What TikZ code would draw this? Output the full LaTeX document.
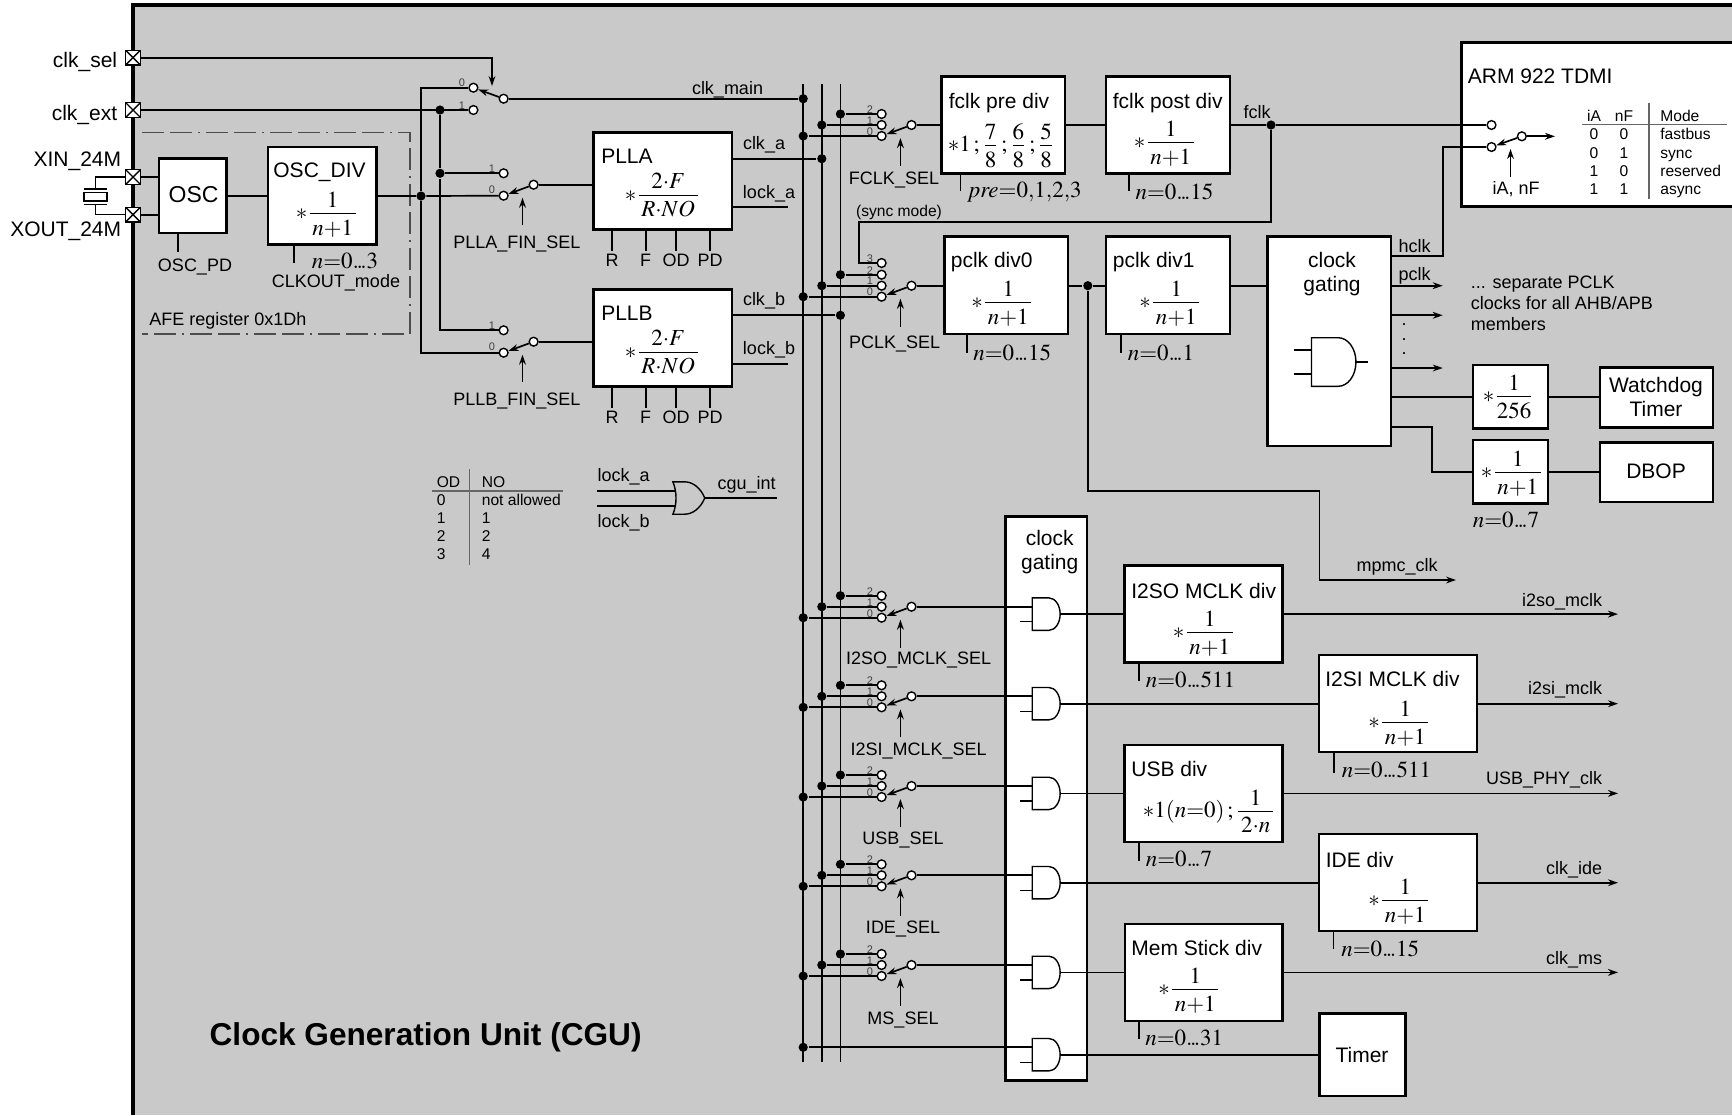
\documentclass[tikz,border=0pt]{standalone}
\usepackage{amsmath}
\usepackage{mathptmx}
\usepackage[no-math]{fontspec}
\setmainfont{Liberation Sans}
\usetikzlibrary{arrows.meta,fit,shapes.gates.logic.US}
\definecolor{cgugray}{RGB}{201,201,201}
\newcommand{\divfr}[2]{\dfrac{\vphantom{1}\smash{\lower1.7pt\hbox{$#1$}}}{#2}}
\newcommand{\dotsn}{.\!.\!.}

\begin{document}
\begin{tikzpicture}[
            x=0.5pt, y=-0.5pt,
            >={Stealth[length=5pt,width=3.4pt]},
            line width=0.85pt,
            box/.style={draw, fill=white, line width=1.25pt, inner sep=0pt},
            lbl/.style={inner sep=0pt, yshift=-0.7pt, font=\fontsize{9}{11}\selectfont},
            ttl/.style={inner sep=0pt, font=\fontsize{10.5}{12.5}\selectfont},
            tbl/.style={inner sep=0pt, font=\fontsize{7.8}{9}\selectfont},
            num/.style={inner sep=0pt, text=black!75, font=\fontsize{5.5}{6}\selectfont},
            mth/.style={inner sep=0pt, anchor=west, font=\fontsize{11.5}{14}\selectfont},
            term/.style={circle, draw, fill=white, line width=0.7pt, inner sep=0pt, minimum size=4.4pt},
            dot/.style={circle, fill=black, inner sep=0pt, minimum size=4.6pt},
            port/.style={rectangle, draw, fill=white, line width=0.7pt, inner sep=0pt, minimum size=7.4pt,
                path picture={\draw[line width=0.7pt] (path picture bounding box.north west) -- (path picture bounding box.south east)
                    (path picture bounding box.north east) -- (path picture bounding box.south west);}},
            andg/.style={and gate US, draw, anchor=west, logic gate inputs=nn, inner sep=0pt, line width=0.7pt,
                logic gate input sep=5pt, xscale=0.69, transform shape}
        ]
        \useasboundingbox (0,0) rectangle (1732,1115);
        \fill[cgugray] (133,5) rectangle (1732,1115);
        \draw[line width=1.8pt] (133,1115) -- (133,5) -- (1732,5);
        \draw[line width=0.7pt, black!70, dash pattern=on 11pt off 3pt on 11pt off 3pt on 1pt off 3pt]
            (141.6,132.3) -- (410,132.3) -- (410,334) -- (141.6,334);

        \node[port] (clksel) at (133,57.7) {};
        \node[port] (clkext) at (133,110) {};
        \node[port] (xin) at (133,177) {};
        \node[port] (xout) at (133,214.7) {};
        \node[ttl, anchor=east] (clksellbl) at (118,61.5) {clk\_sel};
        \node[ttl, anchor=east] (clkextlbl) at (118,114.5) {clk\_ext};
        \node[ttl, anchor=east] (xinlbl) at (122,161.5) {XIN\_24M};
        \node[ttl, anchor=east] (xoutlbl) at (122,231) {XOUT\_24M};

        \node[draw, fill=none, line width=0.7pt, inner sep=0pt, fit={(84,192.7)(107,201)}] (xtal) {};
        \coordinate (xtala) at (84,189);
        \coordinate (xtalb) at (107,189);
        \coordinate (xtalc) at (84,204.5);
        \coordinate (xtald) at (107,204.5);
        \coordinate (xtale) at (95.7,189);
        \coordinate (xtalf) at (95.7,204.5);
        \draw[line width=0.7pt] (xtala) -- (xtalb) (xtalc) -- (xtald);
        \draw[line width=0.7pt] (xin) -| (xtale) (xout) -| (xtalf);

        \node[box, fit={(159,158.7)(226.6,233)}] (osc) {};
        \node[box, fit={(268,147)(376.6,244.7)}] (oscdiv) {};
        \node[inner sep=0pt, font=\fontsize{11.5}{14}\selectfont] (osclbl) at (193.6,195) {OSC};
        \node[ttl] (oscdivlbl) at (319.5,172) {OSC\_DIV};
        \node[mth] (oscdivf) at (295,212.7) {$*\divfr{1}{\,n{+}1\,}$};
        \node[lbl] (oscpd) at (195,265.7) {OSC\_PD};
        \node[mth] (oscdivn) at (311,261) {$n{=}0\dotsn 3$};
        \node[lbl] (clkoutmode) at (336,281.7) {CLKOUT\_mode};
        \node[lbl, anchor=west] (afelbl) at (148.5,319) {AFE register 0x1Dh};
        \coordinate (oscpdt) at (178,251.7);
        \coordinate (oscdivt) at (294,262.7);
        \draw (xin) -- (xin -| osc.west);
        \draw (xout) -- (xout -| osc.west);
        \draw (oscpdt) -- (oscpdt |- osc.south);
        \draw (oscdivt) -- (oscdivt |- oscdiv.south);
        \node[dot] (maindot) at (421,196) {};
        \node[dot] (extdot) at (440,110) {};
        \node[dot] (pllain1) at (440,173.3) {};
        \draw (osc.east |- maindot) -- (oscdiv.west |- maindot);
        \draw (oscdiv.east |- maindot) -- (maindot);

        \node[term] (main0) at (473.4,87.7) {};
        \node[term] (main1) at (473.4,110) {};
        \node[term] (maino) at (503.6,98.7) {};
        \node[num] (mainn0) at (462,83) {0};
        \node[num] (mainn1) at (462,105.7) {1};
        \coordinate (selhead) at (492,86);
        \draw[->] (clksel) -| (selhead);
        \draw[->] (maino) -- (main0);
        \draw (clkext) -- (main1);
        \draw (maindot) |- (main0);

        \foreach \pl/\yy/\ttlx in {a/184.7/PLLA, b/341.7/PLLB} {
            \node[term] (pll\pl t1) at (503.6,\yy-11.4) {};
            \node[term] (pll\pl t0) at (503.6,\yy+11) {};
            \node[term] (pll\pl o) at (533.6,\yy) {};
            \node[num] (pll\pl n1) at (492,\yy-16) {1};
            \node[num] (pll\pl n0) at (492,\yy+5.5) {0};
            \coordinate (pll\pl ca) at (522.5,\yy+40.5);
            \coordinate (pll\pl cb) at (522.5,\yy+13);
            \draw[->] (pll\pl ca) -- (pll\pl cb);
            \draw[->] (pll\pl o) -- (pll\pl t0);
            \node[lbl] (pll\pl sel) at (516.8,\yy+57.5) {\ttlx\_FIN\_SEL};
            \node[box, fit={(593.6,\yy-52.4)(732,\yy+44.6)}] (pll\pl) {};
            \node[ttl, anchor=west] (pll\pl lbl) at (600.4,\yy-28.7) {\ttlx};
            \node[mth] (pll\pl f) at (624,\yy+9) {$*\divfr{2{\cdot}F}{\,R{\cdot}NO\,}$};
            \draw (pll\pl o) -- (pll\pl o -| pll\pl.west);
            \node[lbl] (pll\pl r) at (612,\yy+74.6) {R};
            \node[lbl] (pll\pl ff) at (645.7,\yy+74.6) {F};
            \node[lbl] (pll\pl od) at (676,\yy+74.6) {OD};
            \node[lbl] (pll\pl pd) at (710,\yy+74.6) {PD};
            \foreach \pn in {r,ff,od,pd}
                \draw (pll\pl\pn.north) ++(0,-2.5) -- (pll\pl\pn.north |- pll\pl.south);
        }
        \draw (extdot) -- (pllain1);
        \draw (pllain1) -- (pllat1);
        \draw (pllain1) |- (pllbt1);
        \draw (maindot) -- (pllat0);
        \draw (maindot) |- (pllbt0);

        \coordinate (bus1t) at (803.2,84);
        \coordinate (bus2t) at (821.8,84);
        \coordinate (bus3t) at (840.4,84);
        \coordinate (bus1b) at (803.2,1061.7);
        \coordinate (bus2b) at (821.8,1061.7);
        \coordinate (bus3b) at (840.4,1061.7);
        \draw (bus1t) -- (bus1b);
        \draw (bus2t) -- (bus2b);
        \draw (bus3t) -- (bus3b);

        \node[dot] (maindrop) at (803.2,98.7) {};
        \node[dot] (clkadot) at (821.8,158.7) {};
        \node[dot] (clkbdot) at (840.4,315.3) {};
        \draw (maino) -- (maindrop);
        \draw (pllao -| plla.east) ++(0,-26) -- (clkadot);
        \draw (pllbo -| pllb.east) ++(0,-26.4) -- (clkbdot);
        \node[lbl] (clkmainlbl) at (727.5,88) {clk\_main};
        \node[lbl] (clkalbl) at (764,143) {clk\_a};
        \node[lbl] (clkblbl) at (764,299) {clk\_b};
        \node[lbl] (lockalbl) at (769,192.7) {lock\_a};
        \node[lbl] (lockblbl) at (769,348) {lock\_b};
        \coordinate (lockaend) at (787.5,207);
        \coordinate (lockbend) at (787.5,364);
        \draw (lockaend) -- (lockaend -| plla.east);
        \draw (lockbend) -- (lockbend -| pllb.east);

        \foreach \nm/\yy/\txt/\lx/\ly in {fclk/125/FCLK\_SEL/894/178.7, pclk/285.7/PCLK\_SEL/894.6/342.7,
                iso/606.7/I2SO\_MCLK\_SEL/918.7/658.3, isi/696.3/I2SI\_MCLK\_SEL/918.7/749.3,
                usb/786/USB\_SEL/903/838.3, ide/875.3/IDE\_SEL/903/927.3, ms/965/MS\_SEL/903/1018.3} {
            \node[term] (\nm t2) at (881.6,\yy-11) {};
            \node[term] (\nm t1) at (881.6,\yy) {};
            \node[term] (\nm t0) at (881.6,\yy+11) {};
            \node[term] (\nm o) at (911.5,\yy) {};
            \node[num] (\nm n2) at (870,\yy-15.5) {2};
            \node[num] (\nm n1) at (870,\yy-4.5) {1};
            \node[num] (\nm n0) at (870,\yy+6.5) {0};
            \node[dot] (\nm d2) at (840.4,\yy-11) {};
            \node[dot] (\nm d1) at (821.8,\yy) {};
            \node[dot] (\nm d0) at (803.2,\yy+11) {};
            \draw (\nm d2) -- (\nm t2);
            \draw (\nm d1) -- (\nm t1);
            \draw (\nm d0) -- (\nm t0);
            \draw[->] (\nm o) -- (\nm t0);
            \coordinate (\nm ca) at (900.4,\yy+41);
            \coordinate (\nm cb) at (900.4,\yy+13);
            \draw[->] (\nm ca) -- (\nm cb);
            \node[lbl] (\nm sel) at (\lx,\ly) {\txt};
        }
        \node[term] (pclkt3) at (881.6,263) {};
        \node[num] (pclkn3) at (870,258.5) {3};
        \node[lbl, font=\fontsize{7.8}{9}\selectfont] (syncmode) at (899,211) {(sync mode)};

        \node[box, fit={(941.5,76.3)(1065,173.7)}] (fpre) {};
        \node[box, fit={(1106,76.3)(1230,173.7)}] (fpost) {};
        \node[ttl] (fprelbl) at (999,103) {fclk pre div};
        \node[ttl, anchor=west] (fpostlbl) at (1112,103) {fclk post div};
        \node[mth] (fpref) at (947,144) {$*1\,;\divfr{7}{8}\,;\divfr{6}{8}\,;\divfr{5}{8}$};
        \node[mth] (fpostf) at (1133,141.7) {$*\divfr{1}{\,n{+}1\,}$};
        \node[mth] (fpren) at (968,191.7) {$\mathit{pre}{=}0{,}1{,}2{,}3$};
        \node[mth] (fpostn) at (1134.7,192) {$n{=}0\dotsn 15$};
        \coordinate (fpret) at (960.5,191);
        \coordinate (fpostt) at (1128.8,191);
        \draw (fpret) -- (fpret |- fpre.south);
        \draw (fpostt) -- (fpostt |- fpost.south);
        \draw (fclko) -- (fclko -| fpre.west);
        \draw (fclko -| fpre.east) -- (fclko -| fpost.west);

        \node[box, fit={(1461.7,42.7)(1733,206.7)}] (arm) {};
        \node[ttl, anchor=west] (armlbl) at (1467,76.7) {ARM 922 TDMI};
        \node[term] (arm0) at (1491.5,125) {};
        \node[term] (arm1) at (1491.5,147) {};
        \node[term] (armo) at (1521.8,136.3) {};
        \coordinate (armout) at (1555,136.3);
        \coordinate (armca) at (1510.5,177);
        \coordinate (armcb) at (1510.5,149);
        \draw[->] (armo) -- (arm1);
        \draw[->] (armo) -- (armout);
        \draw[->] (armca) -- (armcb);
        \node[lbl] (iaanf) at (1516,188) {iA, nF};
        \node[dot] (fclkdot) at (1271,125) {};
        \node[lbl] (fclklbl) at (1257,110.5) {fclk};
        \draw (fpost.east |- fclkdot) -- (fclkdot);
        \draw (fclkdot) -- (arm0);
        \coordinate (syncb) at (859,222.3);
        \draw (fclkdot) |- (syncb) |- (pclkt3);

        \coordinate (armta) at (1649,102.7);
        \coordinate (armtb) at (1649,199);
        \coordinate (armtc) at (1582,124.7);
        \coordinate (armtd) at (1727,124.7);
        \draw[black!60, line width=0.7pt] (armta) -- (armtb);
        \draw[black!60, line width=0.7pt] (armtc) -- (armtd);
        \foreach \ia/\nf/\md/\yy in {iA/nF/Mode/121.5, 0/0/fastbus/139.8, 0/1/sync/158.2, 1/0/reserved/176.2, 1/1/async/194.5} {
            \node[tbl, anchor=base] at (1594,\yy) {\ia};
            \node[tbl, anchor=base] at (1624,\yy) {\nf};
            \node[tbl, anchor=base west] at (1659.5,\yy) {\md};
        }

        \node[box, fit={(944.5,236.7)(1068,334)}] (pdiv0) {};
        \node[box, fit={(1106,236.7)(1230,334)}] (pdiv1) {};
        \node[box, fit={(1267.3,236.7)(1391,446)}] (gate) {};
        \node[ttl, anchor=west] (pdiv0lbl) at (950,261.7) {pclk div0};
        \node[ttl, anchor=west] (pdiv1lbl) at (1112,261.7) {pclk div1};
        \node[ttl, align=center] (gatelbl) at (1332,273.8) {clock\\[-0.5pt]gating};
        \node[mth] (pdiv0f) at (970.5,302) {$*\divfr{1}{\,n{+}1\,}$};
        \node[mth] (pdiv1f) at (1138.5,302) {$*\divfr{1}{\,n{+}1\,}$};
        \node[mth] (pdiv0n) at (972.4,352.7) {$n{=}0\dotsn 15$};
        \node[mth] (pdiv1n) at (1127,352.7) {$n{=}0\dotsn 1$};
        \coordinate (pdiv0t) at (967,352.7);
        \coordinate (pdiv1t) at (1121,352.7);
        \draw (pdiv0t) -- (pdiv0t |- pdiv0.south);
        \draw (pdiv1t) -- (pdiv1t |- pdiv1.south);
        \draw (pclko) -- (pclko -| pdiv0.west);
        \node[dot] (pdivdot) at (1087.8,285.7) {};
        \draw (pclko -| pdiv0.east) -- (pdivdot);
        \draw (pdivdot) -- (pclko -| pdiv1.west);
        \draw (pclko -| pdiv1.east) -- (pclko -| gate.west);

        \node[andg, logic gate input sep=8.1pt, xscale=1.06] (gatesym) at (1311,362) {};
        \coordinate (gatea) at (1293.5,350);
        \coordinate (gateb) at (1293.5,374);
        \coordinate (gatec) at (1367.8,362);
        \draw[line width=0.7pt] (gatea) -- (gatea -| gatesym.west);
        \draw[line width=0.7pt] (gateb) -- (gateb -| gatesym.west);
        \draw[line width=0.7pt] (gatesym.output) -- (gatec);

        \coordinate (hclkc) at (1442.7,255.7);
        \draw (hclkc -| gate.east) -| (hclkc) |- (arm1);
        \node[lbl] (hclklbl) at (1414.7,244.5) {hclk};
        \node[lbl] (pclklbl) at (1414.7,274.3) {pclk};
        \coordinate (pclka) at (1442.7,285.7);
        \coordinate (pclkb) at (1442.7,315.3);
        \coordinate (pclkc) at (1442.7,368);
        \draw[->] (pclka -| gate.east) -- (pclka);
        \draw[->] (pclkb -| gate.east) -- (pclkb);
        \draw[->] (pclkc -| gate.east) -- (pclkc);
        \node[lbl, align=center, font=\fontsize{9}{7.25}\selectfont] (pclkdots) at (1404,338) {.\\.\\.};
        \node[lbl, anchor=north west, align=left, font=\fontsize{9}{10.3}\selectfont] (seplbl) at (1470,274) {... separate PCLK\\clocks for all AHB/APB\\members};

        \node[box, fit={(1473,365)(1548,428.7)}] (d256) {};
        \node[box, fit={(1473,440)(1548,503.3)}] (dbopdiv) {};
        \node[box, fit={(1600,367.3)(1713,427.7)}] (wdog) {};
        \node[box, fit={(1600,442.3)(1713,502)}] (dbop) {};
        \node[ttl, align=center] (wdoglbl) at (1656,397) {Watchdog\\[-0.5pt]Timer};
        \node[ttl] (dboplbl) at (1656,471) {DBOP};
        \node[mth] (d256f) at (1482,395) {$*\divfr{1}{256}$};
        \node[mth] (dbopdivf) at (1480,472) {$*\divfr{1}{\,n{+}1\,}$};
        \node[mth] (dbopdivn) at (1472,520) {$n{=}0\dotsn 7$};
        \coordinate (d256a) at (1391,397.3);
        \coordinate (dbopa) at (1391,427.3);
        \coordinate (dbopb) at (1432,472);
        \draw (d256a) -- (d256a -| d256.west);
        \draw (d256a -| d256.east) -- (d256a -| wdog.west);
        \draw (dbopa) -| (dbopb) -- (dbopb -| dbopdiv.west);
        \draw (dbopb -| dbopdiv.east) -- (dbopb -| dbop.west);

        \coordinate (mpmca) at (1319.6,491);
        \coordinate (mpmcb) at (1456,580);
        \draw[->] (pdivdot) |- (mpmca) |- (mpmcb);
        \node[lbl] (mpmclbl) at (1397,565.6) {mpmc\_clk};

        \node[box, fit={(1005.3,516.7)(1087,1080.7)}] (lgate) {};
        \node[ttl, align=center] (lgatelbl) at (1049.7,552.3) {clock\\[-0.5pt]gating};

        \foreach \nm/\yy in {iso/606.7, isi/696.3, usb/786, ide/875.3, ms/965} {
            \node[andg] (g\nm) at (1031.7,\yy+7.4) {};
            \draw (\nm o) -- (\nm o -| g\nm.west);
            \draw[line width=0.7pt] (g\nm.west) ++(0,7.5) -- ++(-11.7,0);
        }
        \node[dot] (timerdot) at (803.2,1047.3) {};
        \node[andg] (gtim) at (1031.7,1054.7) {};
        \draw (timerdot) -- (timerdot -| gtim.west);
        \draw[line width=0.7pt] (gtim.west) ++(0,7.5) -- ++(-11.7,0);

        \node[box, fit={(1124.7,565.7)(1282.5,662.7)}] (iso) {};
        \node[box, fit={(1319,655)(1477,752)}] (isi) {};
        \node[box, fit={(1124.7,745)(1282.5,842)}] (usb) {};
        \node[box, fit={(1319,834)(1477,931)}] (ide) {};
        \node[box, fit={(1125,924)(1282.5,1021)}] (ms) {};
        \node[box, fit={(1319.6,1013.7)(1405.7,1096)}] (timer) {};

        \node[ttl, anchor=west] (isolbl) at (1130.5,590.7) {I2SO MCLK div};
        \node[ttl, anchor=west] (isilbl) at (1324.5,679) {I2SI MCLK div};
        \node[ttl, anchor=west] (usblbl) at (1130.5,768.7) {USB div};
        \node[ttl, anchor=west] (idelbl) at (1325,860) {IDE div};
        \node[ttl, anchor=west] (mslbl) at (1130.5,948.3) {Mem Stick div};
        \node[ttl] (timerlbl) at (1362,1055) {Timer};

        \node[mth] (isof) at (1172,632) {$*\divfr{1}{\,n{+}1\,}$};
        \node[mth] (isif) at (1367.5,722) {$*\divfr{1}{\,n{+}1\,}$};
        \node[mth] (usbf) at (1142,809.7) {$*1(n{=}0)\,;\divfr{1}{\,2{\cdot}n\,}$};
        \node[mth] (idef) at (1367.5,900) {$*\divfr{1}{\,n{+}1\,}$};
        \node[mth] (msf) at (1157.5,988.7) {$*\divfr{1}{\,n{+}1\,}$};

        \node[mth] (ison) at (1145,680) {$n{=}0\dotsn 511$};
        \node[mth] (isin) at (1341,770) {$n{=}0\dotsn 511$};
        \node[mth] (usbn) at (1145,859.4) {$n{=}0\dotsn 7$};
        \node[mth] (iden) at (1340.4,949) {$n{=}0\dotsn 15$};
        \node[mth] (msn) at (1144.5,1038) {$n{=}0\dotsn 31$};

        \foreach \bx/\tx/\ty in {iso/1139/681, isi/1334/773, usb/1139/861, ide/1333.5/949, ms/1138.8/1039} {
            \coordinate (\bx t) at (\tx,\ty);
            \draw (\bx t) -- (\bx t |- \bx.south);
        }

        \coordinate (outx) at (1618,0);
        \foreach \bx/\txt/\lx/\ly in {iso/i2so\_mclk/1562/600, isi/i2si\_mclk/1565/688, usb/USB\_PHY\_clk/1544/778.7,
                ide/clk\_ide/1574/868, ms/clk\_ms/1574/958.8} {
            \draw (g\bx.output) -- (g\bx.output -| \bx.west);
            \draw[->] (g\bx.output -| \bx.east) -- (g\bx.output -| outx);
            \node[lbl] (\bx lbl) at (\lx,\ly) {\txt};
        }
        \draw (gtim.output) -- (gtim.output -| timer.west);

        \coordinate (odta) at (469.7,469);
        \coordinate (odtb) at (469.7,565);
        \coordinate (odtc) at (432.3,491);
        \coordinate (odtd) at (563.3,491);
        \draw[black!60, line width=0.7pt] (odta) -- (odtb);
        \draw[black!60, line width=0.7pt] (odtc) -- (odtd);
        \foreach \od/\no/\yy in {OD/NO/487, 0/not allowed/505.2, 1/1/523.2, 2/2/541.5, 3/4/559.5} {
            \node[tbl, anchor=base west] at (436,\yy) {\od};
            \node[tbl, anchor=base west] at (481,\yy) {\no};
        }

        \node[or gate US, draw, anchor=center, logic gate inputs=nn, inner sep=0pt, line width=0.7pt,
            logic gate input sep=5pt, xscale=0.72, transform shape] (orgate) at (686.5,498) {};
        \coordinate (locka) at (596.7,491);
        \coordinate (lockb) at (596.7,506);
        \coordinate (cguend) at (776.7,498);
        \draw (locka) -- (locka -| orgate.input 1);
        \draw (lockb) -- (lockb -| orgate.input 2);
        \draw (orgate.output) -- (cguend);
        \node[lbl, anchor=west] (lockaorlbl) at (596.7,475.7) {lock\_a};
        \node[lbl, anchor=west] (lockborlbl) at (596.7,521) {lock\_b};
        \node[lbl] (cgulbl) at (746.7,483) {cgu\_int};

        \node[inner sep=0pt, anchor=west, font=\fontsize{15.8}{18}\selectfont\bfseries] (cgutitle) at (208.8,1037) {Clock Generation Unit (CGU)};
    \end{tikzpicture}
\end{document}
